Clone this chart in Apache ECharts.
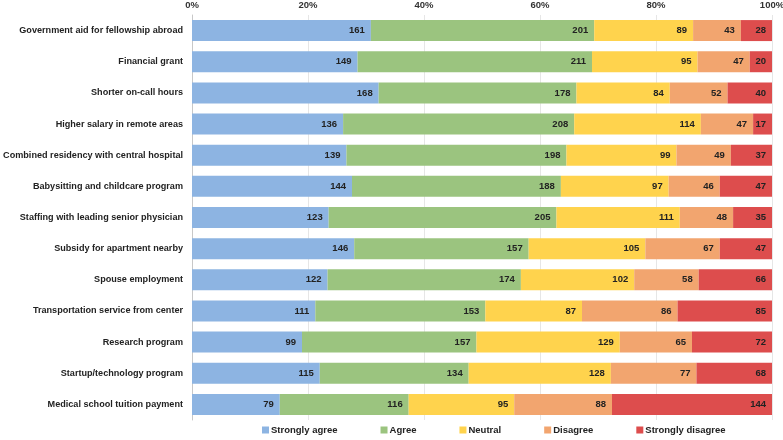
<!DOCTYPE html>
<html><head><meta charset="utf-8">
<script src="https://cdn.jsdelivr.net/npm/echarts@6/dist/echarts.min.js"></script>
<style>html,body{margin:0;padding:0;background:#fff}#c{width:783px;height:440px}</style>
</head><body><div id="c"></div>
<script>
const categories = [
  "Government aid for fellowship abroad",
  "Financial grant",
  "Shorter on-call hours",
  "Higher salary in remote areas",
  "Combined residency with central hospital",
  "Babysitting and childcare program",
  "Staffing with leading senior physician",
  "Subsidy for apartment nearby",
  "Spouse employment",
  "Transportation service from center",
  "Research program",
  "Startup/technology program",
  "Medical school tuition payment"
];
const stronglyAgree    = [161,149,168,136,139,144,123,146,122,111, 99,115, 79];
const agree            = [201,211,178,208,198,188,205,157,174,153,157,134,116];
const neutral          = [ 89, 95, 84,114, 99, 97,111,105,102, 87,129,128, 95];
const disagree         = [ 43, 47, 52, 47, 49, 46, 48, 67, 58, 86, 65, 77, 88];
const stronglyDisagree = [ 28, 20, 40, 17, 37, 47, 35, 47, 66, 85, 72, 68,144];
const tickLabels = ["0%","20%","40%","60%","80%","100%"];

const seriesDefs = [
  {name:"Strongly agree", data:stronglyAgree, color:"#8db4e2"},
  {name:"Agree", data:agree, color:"#9bc47f"},
  {name:"Neutral", data:neutral, color:"#ffd34d"},
  {name:"Disagree", data:disagree, color:"#f2a56f"},
  {name:"Strongly disagree", data:stronglyDisagree, color:"#dd4d4d"}
];
const totals = categories.map((_, i) => seriesDefs.reduce((s, d) => s + d.data[i], 0));

const font = "Liberation Sans, Arial, sans-serif";
const fs = 9.5;
const chart = echarts.init(document.getElementById('c'), null, {renderer:'canvas'});
chart.setOption({
  animation:false,
  textStyle:{fontFamily:font},
  grid:{left:192, right:11, top:15, bottom:20, containLabel:false, outerBoundsMode:'none'},
  legend:{
    bottom:0, left:257, icon:'rect', itemWidth:7, itemHeight:7, itemGap:43,
    textStyle:{fontFamily:font, fontWeight:'bold', fontSize:9.5, color:'#222', padding:[0,0,0,-3]},
    data:seriesDefs.map(d=>d.name)
  },
  xAxis:{
    type:'value', position:'top', min:0, max:100, interval:20,
    axisLabel:{formatter:(v)=>tickLabels[Math.round(v/20)], fontWeight:'bold', fontSize:fs, color:'#333', margin:5, fontFamily:font},
    axisLine:{show:false}, axisTick:{show:false},
    splitLine:{show:true, lineStyle:{color:'#e6e6e6', width:1}}
  },
  yAxis:{
    type:'category', data:categories, inverse:true,
    axisLine:{show:true, lineStyle:{color:'#c8c8c8', width:1}},
    axisTick:{show:false},
    axisLabel:{fontWeight:'bold', fontSize:9.1, color:'#222', margin:9, fontFamily:font}
  },
  series: seriesDefs.map(d => ({
    name:d.name, type:'bar', stack:'all', barWidth:21,
    itemStyle:{color:d.color},
    data:d.data.map((v,i)=>v/totals[i]*100),
    label:{show:true, position:'insideRight', distance:6, fontWeight:'bold', fontSize:fs, color:'#222', fontFamily:font,
      formatter:(p)=>String(d.data[p.dataIndex])}
  }))
});
</script></body></html>
